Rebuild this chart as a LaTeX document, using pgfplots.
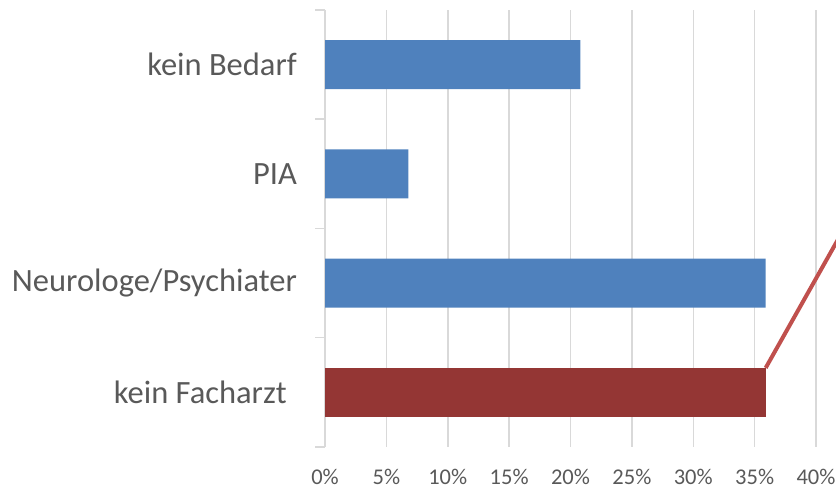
\documentclass[border=0pt]{standalone}
\usepackage{pgfplots}
\pgfplotsset{compat=1.18}
\usepackage{fontspec}
\setmainfont{Carlito}
\definecolor{barblue}{HTML}{4F81BD}
\definecolor{barred}{HTML}{943634}
\definecolor{linered}{HTML}{C0504D}
\definecolor{gridgray}{HTML}{D9D9D9}
\definecolor{textgray}{HTML}{595959}
\begin{document}
\begin{tikzpicture}[x=1bp,y=1bp]
\path[use as bounding box] (0,0) rectangle (836,489);
\clip (0,0) rectangle (836,489);
\begin{axis}[
  at={(325bp,42bp)}, anchor=south west,
  scale only axis, width=491bp, height=437bp,
  xmin=0, xmax=40, ymin=-0.5, ymax=3.5,
  bar width=49bp, bar shift=0pt,
  axis x line*=bottom, axis y line*=left,
  x axis line style={draw=none},
  y axis line style={gridgray, line width=1.5bp},
  xtick={0,5,...,40},
  xticklabels={0\%,5\%,10\%,15\%,20\%,25\%,30\%,35\%,40\%},
  x tick label style={font=\fontsize{22.5bp}{27bp}\selectfont, text=textgray, anchor=north, inner sep=0pt, yshift=-22bp},
  xmajorgrids, grid style={gridgray, line width=1.5bp},
  ytick={0,1,2,3},
  yticklabels={kein Facharzt\hspace*{10bp}, Neurologe/Psychiater, PIA, kein Bedarf},
  y tick label style={font=\fontsize{32.5bp}{38bp}\selectfont, text=textgray, anchor=east, inner sep=0pt, xshift=-28bp},
  minor ytick={-0.5,0.5,1.5,2.5,3.5},
  tick align=outside,
  major tick length=0pt, minor tick length=10bp,
  tick style={gridgray, line width=1.5bp},
  clip=false,
]
\addplot[xbar, fill=barblue, draw=none] coordinates {(20.8,3) (6.8,2) (35.9,1)};
\addplot[xbar, fill=barred, draw=none] coordinates {(35.9,0)};
\addplot[sharp plot, no marks, linered, line width=4bp] coordinates {(35.9,0.224) (45,2.04)};
\end{axis}
\end{tikzpicture}
\end{document}
